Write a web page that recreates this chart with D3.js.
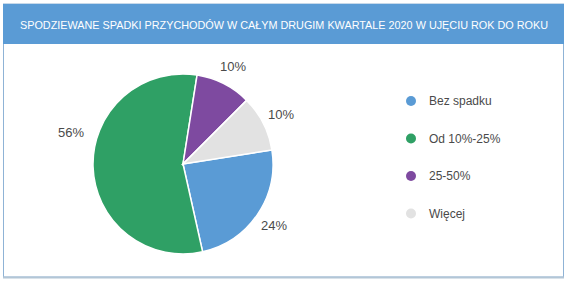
<html>
<head>
<meta charset="utf-8">
<style>
  body { margin: 0; background: #fff; }
  text { font-family: "Liberation Sans", Arial, sans-serif; }
</style>
<script src="https://d3js.org/d3.v7.min.js"></script>
</head>
<body>
<svg width="569" height="283"></svg>
<script>
var title = "SPODZIEWANE SPADKI PRZYCHODÓW W CAŁYM DRUGIM KWARTALE 2020 W UJĘCIU ROK DO ROKU";
var categories = ["Bez spadku", "Od 10%-25%", "25-50%", "Więcej"];
var values = [24, 56, 10, 10];
var colors = ["#5a9bd5", "#2fa065", "#7e4aa0", "#e2e2e2"];

var svg = d3.select("svg");

// frame + header
svg.append("rect").attr("x", 3.5).attr("y", 4).attr("width", 560).attr("height", 273)
   .attr("fill", "#fff").attr("stroke", "#8fb3d6").attr("stroke-width", 1);
svg.append("line").attr("x1", 3).attr("x2", 564).attr("y1", 277.5).attr("y2", 277.5)
   .attr("stroke", "#b3c6d6").attr("stroke-width", 2);
svg.append("rect").attr("x", 3).attr("y", 4).attr("width", 561).attr("height", 40).attr("fill", "#5a9bd5");
var t = svg.append("text").attr("x", 284).attr("y", 29).attr("text-anchor", "middle")
   .attr("fill", "#fff").attr("font-size", "12px")
   .text(title);
// squeeze the title to the width it has in the original
var w = t.node().getComputedTextLength();
t.attr("font-size", (12 * 528 / w).toFixed(2) + "px");

// pie
var cx = 183, cy = 164, r = 90;
var pie = d3.pie().sort(null)
    .startAngle(81 * Math.PI / 180)
    .endAngle(81 * Math.PI / 180 + 2 * Math.PI);
var arc = d3.arc().innerRadius(0).outerRadius(r);
var labelArc = d3.arc().innerRadius(110).outerRadius(110);

var g = svg.append("g").attr("transform", "translate(" + cx + "," + cy + ")");
var arcs = pie(values);

g.selectAll("path").data(arcs).enter().append("path")
  .attr("d", arc)
  .attr("fill", function(d, i) { return colors[i]; })
  .attr("stroke", "#fff").attr("stroke-width", 1.5);

g.selectAll(".lbl").data(arcs).enter().append("text")
  .attr("class", "lbl")
  .attr("transform", function(d) {
      var c = labelArc.centroid(d);
      // the big slice label sits higher, like excel's best fit
      if (d.value > 50) { c = [c[0] - 2, c[1] - 35]; }
      return "translate(" + c + ")";
  })
  .attr("text-anchor", "middle").attr("dy", "0.35em")
  .attr("fill", "#4a4a4a").attr("font-size", "13px")
  .text(function(d) { return d.value + "%"; });

// legend
var leg = svg.append("g").attr("transform", "translate(411,101)");
var item = leg.selectAll("g").data(categories).enter().append("g")
  .attr("transform", function(d, i) { return "translate(0," + (i * 37.5) + ")"; });
item.append("circle").attr("r", 5).attr("fill", function(d, i) { return colors[i]; });
item.append("text").attr("x", 18).attr("dy", "0.35em")
  .attr("fill", "#4a4a4a").attr("font-size", "12px")
  .text(function(d) { return d; });
</script>
</body>
</html>
